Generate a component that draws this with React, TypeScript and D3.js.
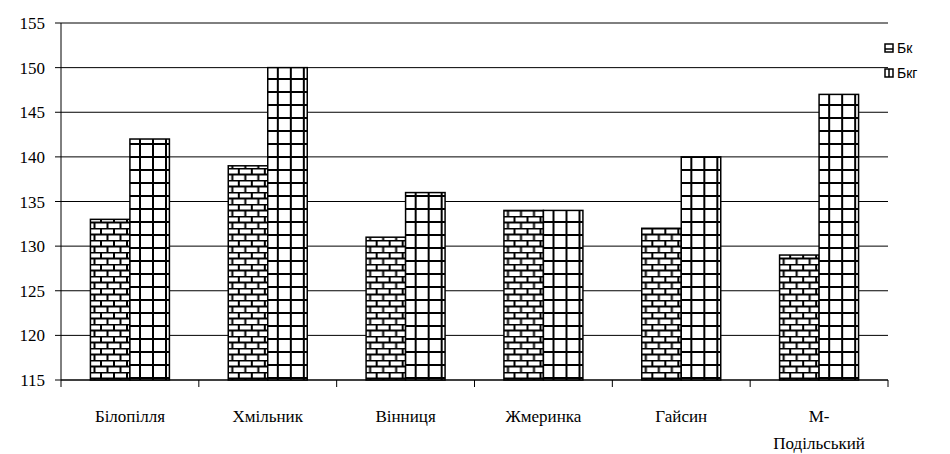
import * as d3 from "d3";

const width = 950;
const height = 454;
const marginLeft = 61;
const marginRight = 62;
const marginTop = 23;
const marginBottom = 74;

const categories = ["Білопілля", "Хмільник", "Вінниця", "Жмеринка", "Гайсин", "М-Подільський"];
const seriesNames = ["Бк", "Бкг"];
const bk = [133, 139, 131, 134, 132, 129];
const bkg = [142, 150, 136, 134, 140, 147];
const yTicks = [115, 120, 125, 130, 135, 140, 145, 150, 155];

const serifFont = "'Liberation Serif', 'Times New Roman', serif";
const sansFont = "'Liberation Sans', Arial, sans-serif";

const App = () => {
  const x0 = d3
    .scaleBand<string>()
    .domain(categories)
    .range([marginLeft, width - marginRight])
    .padding(0);

  const x1 = d3
    .scaleBand<string>()
    .domain(seriesNames)
    .range([0, x0.bandwidth()])
    .paddingInner(0)
    .paddingOuter(0.745);

  const y = d3
    .scaleLinear()
    .domain([115, 155])
    .range([height - marginBottom, marginTop]);

  const values = [bk, bkg];
  const fills = ["url(#brick)", "url(#grid)"];
  const x0Bounds = categories.map((c) => x0(c) as number).concat([width - marginRight]);

  return (
    <svg
      width={width}
      height={height}
      viewBox={`0 0 ${width} ${height}`}
      style={{ position: "absolute", left: 0, top: 0, background: "#fff" }}
    >
      <defs>
        <pattern id="brick" patternUnits="userSpaceOnUse" width={13} height={12}>
          <rect width={13} height={12} fill="#fff" />
          <line x1={0} x2={13} y1={0.5} y2={0.5} stroke="#000" strokeWidth={2} />
          <line x1={0} x2={13} y1={6.5} y2={6.5} stroke="#000" strokeWidth={2} />
          <line x1={1} x2={1} y1={0} y2={6} stroke="#000" strokeWidth={2} />
          <line x1={7.5} x2={7.5} y1={6} y2={12} stroke="#000" strokeWidth={2} />
        </pattern>
        <pattern id="grid" patternUnits="userSpaceOnUse" width={13} height={13}>
          <rect width={13} height={13} fill="#fff" />
          <line x1={0} x2={13} y1={1} y2={1} stroke="#000" strokeWidth={2} />
          <line x1={1} x2={1} y1={0} y2={13} stroke="#000" strokeWidth={2} />
        </pattern>
      </defs>

      {/* gridlines + y ticks */}
      {yTicks.map((t) => (
        <g key={t}>
          <line x1={marginLeft} x2={width - marginRight} y1={y(t)} y2={y(t)} stroke="#000" strokeWidth={1} />
          <line x1={marginLeft - 6} x2={marginLeft} y1={y(t)} y2={y(t)} stroke="#000" />
          <text x={marginLeft - 16} y={y(t) + 6} textAnchor="end" fontFamily={serifFont} fontSize="17px">
            {t}
          </text>
        </g>
      ))}

      {/* bars */}
      {categories.map((c, i) => (
        <g key={c} transform={`translate(${x0(c)},0)`}>
          {seriesNames.map((s, j) => (
            <rect
              key={s}
              x={x1(s)}
              y={y(values[j][i])}
              width={x1.bandwidth()}
              height={y(115) - y(values[j][i])}
              fill={fills[j]}
              stroke="#000"
              strokeWidth={1.5}
            />
          ))}
        </g>
      ))}

      {/* axes */}
      <line x1={marginLeft} x2={marginLeft} y1={marginTop} y2={y(115)} stroke="#000" />
      <line x1={marginLeft} x2={width - marginRight} y1={y(115)} y2={y(115)} stroke="#000" />
      {x0Bounds.map((b, i) => (
        <line key={i} x1={b} x2={b} y1={y(115)} y2={y(115) + 7} stroke="#000" />
      ))}

      {/* category labels */}
      {categories.map((c) => {
        const cx = (x0(c) as number) + x0.bandwidth() / 2;
        const lines = c === "М-Подільський" ? ["М-", "Подільський"] : [c];
        return (
          <text key={c} x={cx} y={y(115) + 42} textAnchor="middle" fontFamily={serifFont} fontSize="17px">
            {lines.map((l, k) => (
              <tspan key={k} x={cx} dy={k === 0 ? 0 : 27}>
                {l}
              </tspan>
            ))}
          </text>
        );
      })}

      {/* legend */}
      {seriesNames.map((s, j) => (
        <g key={s} transform={`translate(885, ${48 + j * 25})`}>
          <rect x={0} y={-4} width={8} height={8} fill="#fff" stroke="#000" strokeWidth={1.5} />
          {j === 0 ? (
            <line x1={0} x2={8} y1={1} y2={1} stroke="#000" strokeWidth={1.5} />
          ) : (
            <line x1={4} x2={4} y1={-4} y2={4} stroke="#000" strokeWidth={1.5} />
          )}
          <text x={12} y={5} fontFamily={sansFont} fontSize="14px">
            {s}
          </text>
        </g>
      ))}
    </svg>
  );
};

export default App;
